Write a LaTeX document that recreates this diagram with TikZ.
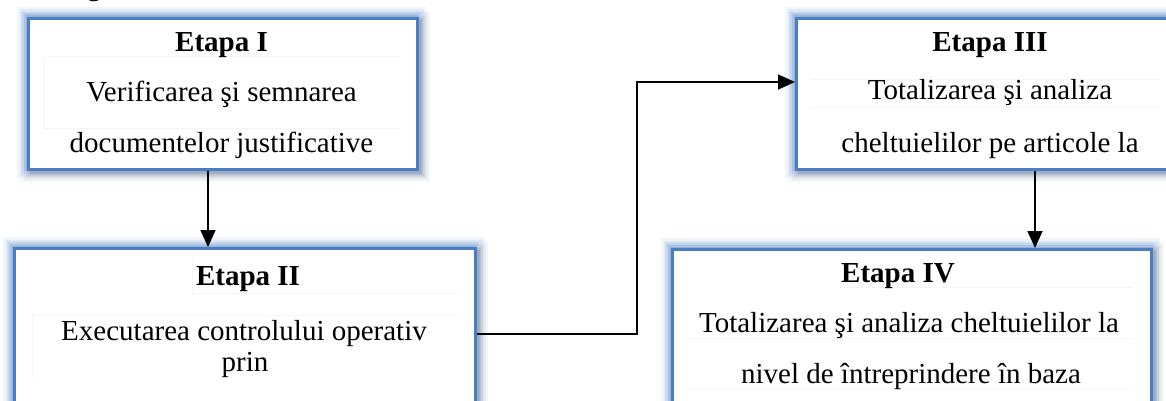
\documentclass[tikz,border=0pt]{standalone}
\usepackage{fontspec}
\setmainfont{Liberation Serif}
\usetikzlibrary{arrows.meta}

\definecolor{boxblue}{RGB}{74,126,192}
\definecolor{glowblue}{RGB}{110,155,220}
\definecolor{shadowgray}{RGB}{100,110,130}
\definecolor{faintline}{RGB}{245,245,245}

\tikzset{
  stagebox/.style={rectangle, draw=boxblue, line width=2.6pt, fill=white,
    inner sep=0pt, anchor=north west},
  headtext/.style={anchor=base, inner sep=0pt,
    font=\bfseries\fontsize{29}{29}\selectfont},
  bodytext/.style={anchor=base, inner sep=0pt,
    font=\fontsize{29}{29}\selectfont},
  link/.style={draw=black, line width=1.6pt,
    -{Triangle[width=15pt,length=17pt]}},
  cellrule/.style={draw=faintline, line width=1pt}
}

% soft blue glow plus a light drop shadow around a box
\newcommand{\stageglow}[4]{%
  \foreach \w/\o in {20/0.10,15/0.13,10/0.17,6/0.22,3/0.28}{%
    \draw[shadowgray, line width=\w pt, opacity=0.6*\o]
      ([shift={(4,4)}]#1,#2) rectangle ([shift={(4,4)}]#3,#4);
    \draw[glowblue, line width=\w pt, opacity=\o] (#1,#2) rectangle (#3,#4);
  }%
}

\begin{document}
\begin{tikzpicture}[x=1pt, y=-1pt]
  \clip (0,0) rectangle (1166,401);
  \fill[white] (0,0) rectangle (1166,401);

  % caption fragment above the diagram
  \node[bodytext] (cap) at (94,-4) {g};

  % glows behind the boxes
  \stageglow{27}{17}{416}{168}
  \stageglow{13}{247}{474}{440}
  \stageglow{795}{17}{1185}{168}
  \stageglow{671}{248}{1150}{440}

  % boxes
  \node[stagebox, minimum width=389pt, minimum height=151pt] (e1) at (27,17) {};
  \node[stagebox, minimum width=461pt, minimum height=193pt] (e2) at (13,247) {};
  \node[stagebox, minimum width=390pt, minimum height=151pt] (e3) at (795,17) {};
  \node[stagebox, minimum width=479pt, minimum height=192pt] (e4) at (671,248) {};

  % faint table cell rules inside the boxes
  \draw[cellrule] (43,57) -- (400,57) (43,128) -- (400,128) (43,57) -- (43,128);
  \draw[cellrule] (192,293) -- (458,293) (32,315) -- (458,315)
                  (192,258) -- (192,293) (32,315) -- (32,378);
  \draw[cellrule] (810,80) -- (1160,80) (810,108) -- (1160,108);
  \draw[cellrule] (840,287) -- (1133,287) (687,338) -- (1133,338)
                  (687,388) -- (1133,388);

  % Etapa I
  \node[headtext] (h1) at (221.5,52) {Etapa I};
  \node[bodytext] (b1a) at (221.5,102) {Verificarea şi semnarea};
  \node[bodytext] (b1b) at (221.5,152) {documentelor justificative};

  % Etapa II
  \node[headtext] (h2) at (248,285) {Etapa II};
  \node[bodytext] (b2a) at (244,340) {Executarea controlului operativ};
  \node[bodytext] (b2b) at (245,371) {prin};

  % Etapa III
  \node[headtext] (h3) at (990,52) {Etapa III};
  \node[bodytext] (b3a) at (990,100) {Totalizarea şi analiza};
  \node[bodytext] (b3b) at (990,152) {cheltuielilor pe articole la};

  % Etapa IV
  \node[headtext] (h4) at (898,282) {Etapa IV};
  \node[bodytext] (b4a) at (909,332) {Totalizarea şi analiza cheltuielilor la};
  \node[bodytext] (b4b) at (911,383) {nivel de întreprindere în baza};

  % connector anchors
  \coordinate (x12) at (208,0);
  \coordinate (y2out) at (0,334);
  \coordinate (bend) at (637,0);
  \coordinate (y3in) at (0,82);
  \coordinate (x34) at (1035,0);

  % connectors
  \draw[link] (e1.south -| x12) -- (e2.north -| x12);
  \draw[link] (e2.east |- y2out) -- (bend |- y2out) -- (bend |- y3in) -- (e3.west |- y3in);
  \draw[link] (e3.south -| x34) -- (e4.north -| x34);
\end{tikzpicture}
\end{document}
